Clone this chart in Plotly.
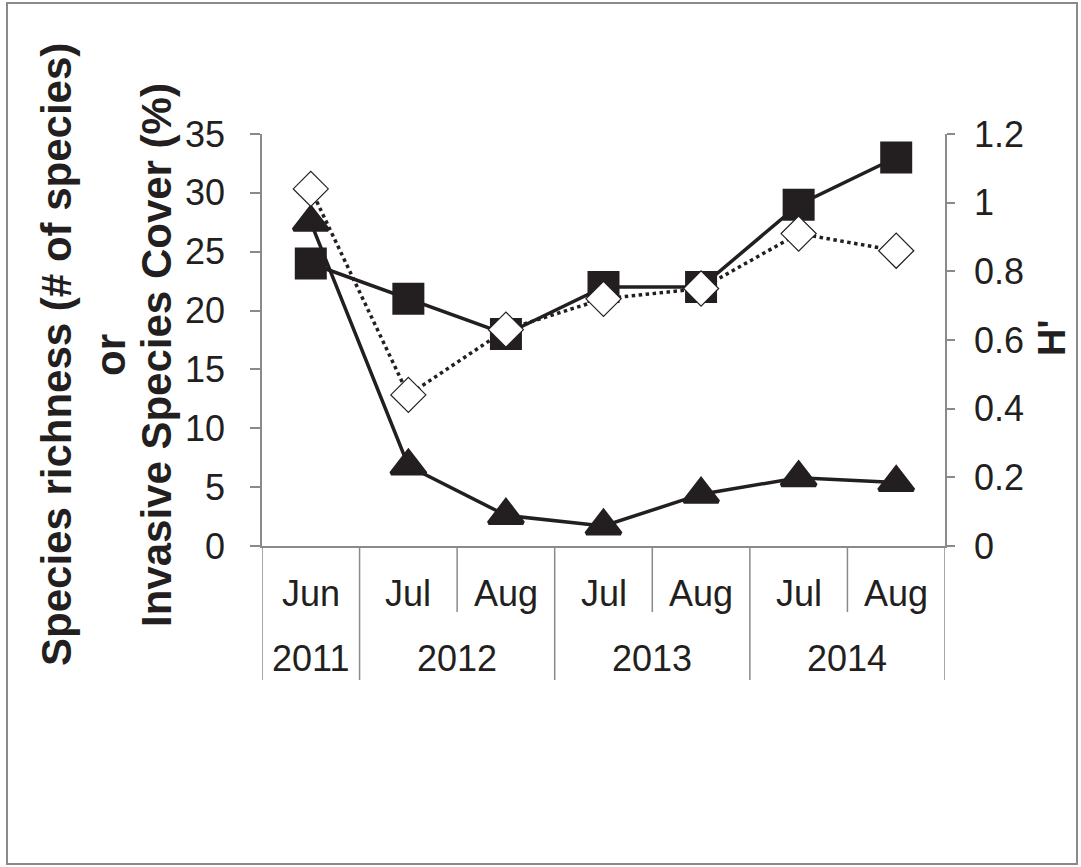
import plotly.graph_objects as go

# Sampling dates (two-level category axis)
months = ["Jun", "Jul", "Aug", "Jul", "Aug", "Jul", "Aug"]
years = ["2011", "2012", "2013", "2014"]
year_spans = [(0, 0), (1, 2), (3, 4), (5, 6)]  # first/last month index of each year

# Series values
richness = [24, 21, 18, 22, 22, 29, 33]                 # species richness (# of species)
invasive_cover = [27.5, 6.8, 2.6, 1.7, 4.4, 5.8, 5.4]   # invasive species cover (%)
shannon_h = [1.04, 0.44, 0.63, 0.72, 0.75, 0.91, 0.86]  # Shannon diversity H'

INK = "#231f20"
AXIS = "#8a8a8a"
FONT = "Liberation Sans, Arial, sans-serif"

x = list(range(len(months)))

fig = go.Figure()
fig.add_trace(go.Scatter(
    x=x, y=richness, mode="lines+markers", name="Species richness",
    line=dict(color=INK, width=3.5),
    marker=dict(symbol="square", size=32, color=INK),
))
fig.add_trace(go.Scatter(
    x=x, y=invasive_cover, mode="lines+markers", name="Invasive species cover",
    line=dict(color=INK, width=3.5),
    marker=dict(symbol="triangle-up", size=30, color=INK, line=dict(color=INK, width=4)),
))
fig.add_trace(go.Scatter(
    x=x, y=shannon_h, mode="lines+markers", name="H'", yaxis="y2",
    line=dict(color=INK, width=3.5, dash="dot"),
    marker=dict(symbol="diamond", size=27, color="white", line=dict(color=INK, width=1.2)),
))

# Plot area in pixels
L, R, T, B = 262, 945, 134, 546
W, H = 1081, 867


def py(p):
    """Pixel row -> paper y."""
    return (B - p) / (B - T)


def px(p):
    """Pixel column -> paper x."""
    return (p - L) / (R - L)


shapes = []
# Category dividers below the axis: full-height between years, short between months
for i in range(len(months) + 1):
    xb = i - 0.5
    full = xb in (-0.5, 0.5, 2.5, 4.5, 6.5)
    shapes.append(dict(type="line", xref="x", yref="paper", x0=xb, x1=xb,
                       y0=0, y1=py(680) if full else py(612),
                       line=dict(color=AXIS, width=1.5)))
# Outer frame
shapes.append(dict(type="rect", xref="paper", yref="paper",
                   x0=px(7), x1=px(1077), y0=py(3), y1=py(864),
                   line=dict(color=AXIS, width=2), fillcolor="rgba(0,0,0,0)", layer="below"))

annotations = []
for i, m in enumerate(months):
    annotations.append(dict(x=i, y=py(593), xref="x", yref="paper", text=m,
                            showarrow=False, xanchor="center", yanchor="middle",
                            font=dict(family=FONT, size=36, color=INK)))
for yr, (a, b) in zip(years, year_spans):
    annotations.append(dict(x=(a + b) / 2, y=py(658), xref="x", yref="paper", text=yr,
                            showarrow=False, xanchor="center", yanchor="middle",
                            font=dict(family=FONT, size=36, color=INK)))

# Left axis title (three stacked rotated lines)
for text, cx in [("Species richness (# of species)", 56),
                 ("or", 110),
                 ("Invasive Species Cover (%)", 156)]:
    annotations.append(dict(x=px(cx), y=py(355), xref="paper", yref="paper",
                            text="<b>%s</b>" % text, textangle=-90, showarrow=False,
                            xanchor="center", yanchor="middle",
                            font=dict(family=FONT, size=42, color=INK)))
# Right axis title
annotations.append(dict(x=px(1052), y=py(338), xref="paper", yref="paper",
                        text="<b>H'</b>", textangle=-90, showarrow=False,
                        xanchor="center", yanchor="middle",
                        font=dict(family=FONT, size=38, color=INK)))

fig.update_layout(
    width=W, height=H,
    margin=dict(l=L, r=W - R, t=T, b=H - B, pad=0),
    paper_bgcolor="white", plot_bgcolor="white",
    showlegend=False,
    font=dict(family=FONT, color=INK),
    xaxis=dict(range=[-0.5, 6.5], showgrid=False, zeroline=False,
               showline=True, linecolor=AXIS, linewidth=1.5,
               showticklabels=False, ticks=""),
    yaxis=dict(range=[0, 35], dtick=5, tick0=0, showgrid=False, zeroline=False,
               showline=True, linecolor=AXIS, linewidth=1.5,
               ticks="outside", ticklen=10, tickwidth=1.5, tickcolor=AXIS,
               ticklabelstandoff=18,
               tickfont=dict(family=FONT, size=36, color=INK)),
    yaxis2=dict(range=[0, 1.2], dtick=0.2, tick0=0, overlaying="y", side="right",
                showgrid=False, zeroline=False,
                showline=True, linecolor=AXIS, linewidth=1.5,
                ticks="outside", ticklen=8, tickwidth=1.5, tickcolor=AXIS,
                ticklabelstandoff=12,
                tickfont=dict(family=FONT, size=36, color=INK)),
    shapes=shapes,
    annotations=annotations,
)

fig.write_html("out.html")
